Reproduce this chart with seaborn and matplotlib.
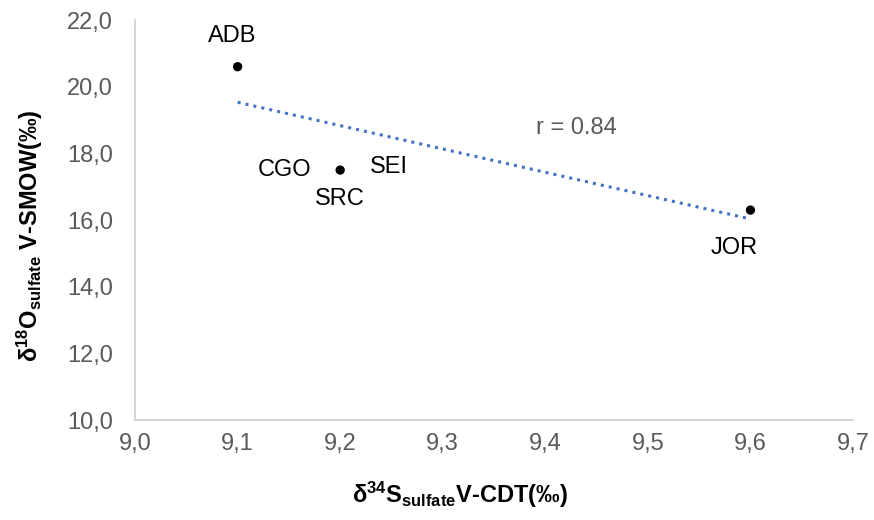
import matplotlib
matplotlib.use('Agg')
import matplotlib.pyplot as plt
import seaborn as sns
import pandas as pd
from matplotlib.ticker import FuncFormatter, MultipleLocator

# data
d34s = [9.1, 9.2, 9.6]
d18o = [20.6, 17.5, 16.3]
point_labels = ['ADB', 'CGO', 'SEI', 'SRC', 'JOR']
label_point = [0, 1, 1, 1, 2]          # which point each label belongs to
label_offset = [(-4, 22), (-40, 0), (35, 2), (0, -21), (-12, -27)]  # in points

df = pd.DataFrame({'d34s': d34s, 'd18o': d18o})

sns.set_style('white')
plt.rcParams['font.family'] = ['Liberation Sans', 'DejaVu Sans']
plt.rcParams['mathtext.fontset'] = 'custom'
plt.rcParams['mathtext.rm'] = 'Liberation Sans'
plt.rcParams['mathtext.bf'] = 'Liberation Sans:bold'

fig = plt.figure(figsize=(8.74, 5.2), dpi=100)
ax = fig.add_axes([0.1545, 0.192, 0.8215, 0.7695])

# trend line (least squares over the three points)
sns.regplot(data=df, x='d34s', y='d18o', scatter=False, ci=None, ax=ax,
            line_kws={'color': '#4472C4', 'linestyle': ':', 'linewidth': 2.2})
sns.scatterplot(data=df, x='d34s', y='d18o', color='black', s=45,
                edgecolor='none', ax=ax, zorder=3)

for name, idx, off in zip(point_labels, label_point, label_offset):
    ax.annotate(name, (d34s[idx], d18o[idx]), xytext=off, textcoords='offset points',
                ha='center', va='center', fontsize=17, color='black')

ax.text(9.43, 18.77, 'r = 0.84', fontsize=17, color='#595959', ha='center', va='center')

ax.set_xlim(9.0, 9.7)
ax.set_ylim(10.0, 22.0)
ax.xaxis.set_major_locator(MultipleLocator(0.1))
ax.yaxis.set_major_locator(MultipleLocator(2.0))
ax.xaxis.set_major_formatter(FuncFormatter(lambda v, p: f"{v:.1f}".replace('.', ',')))
ax.yaxis.set_major_formatter(FuncFormatter(lambda v, p: f"{v:.1f}".replace('.', ',')))
ax.tick_params(axis='both', length=0, labelsize=17, labelcolor='#595959')
ax.tick_params(axis='x', pad=9)
ax.tick_params(axis='y', pad=16)

for side in ['top', 'right']:
    ax.spines[side].set_visible(False)
for side in ['left', 'bottom']:
    ax.spines[side].set_color('#d0d0d0')
    ax.spines[side].set_linewidth(1.2)

ax.set_xlabel(r'$\mathbf{δ^{34}S_{sulfate}}$V-CDT(‰)', fontsize=17, fontweight='bold', color='black')
ax.set_ylabel(r'$\mathbf{δ^{18}O_{sulfate}}$ V-SMOW(‰)', fontsize=17, fontweight='bold', color='black')
ax.xaxis.set_label_coords(0.453, -0.15)
ax.yaxis.set_label_coords(-0.125, 0.46)

fig.savefig('out.png', dpi=100)
